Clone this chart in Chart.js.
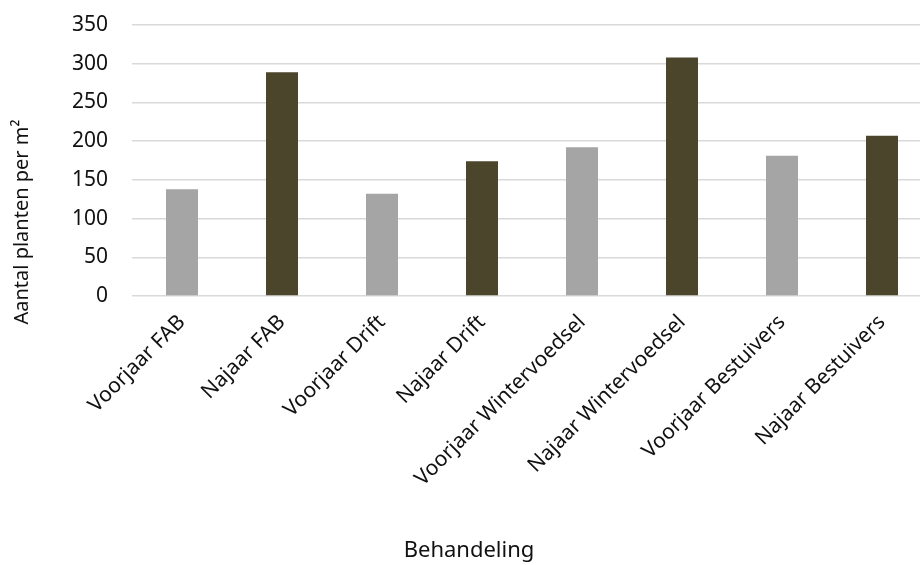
<!DOCTYPE html>
<html>
<head>
<meta charset="utf-8">
<script src="https://cdn.jsdelivr.net/npm/chart.js@4"></script>
<style>
  html, body { margin: 0; padding: 0; background: #fff; overflow: hidden; }
  #wrap { width: 920px; height: 565px; overflow: hidden; }
</style>
</head>
<body>
<div id="wrap"><canvas id="chart" width="932" height="565"></canvas></div>
<script>
const categories = [
    'Voorjaar FAB', 'Najaar FAB', 'Voorjaar Drift', 'Najaar Drift',
    'Voorjaar Wintervoedsel', 'Najaar Wintervoedsel', 'Voorjaar Bestuivers', 'Najaar Bestuivers'
];
const plantsPerM2 = [138, 289, 132, 174, 192, 308, 181, 207];
const seasonColors = ['#a5a5a5', '#4a452b', '#a5a5a5', '#4a452b', '#a5a5a5', '#4a452b', '#a5a5a5', '#4a452b'];
const yTicks = { min: 0, max: 350, step: 50 };
const yTitle = 'Aantal planten per m²';
const xTitle = 'Behandeling';

const FONT = '"Noto Sans"';
const TEXT = '#111111';

// y title sits a bit lower than the plot middle in the original, so draw it by hand
const yTitlePlugin = {
    id: 'yTitle',
    afterDraw(chart) {
        const ctx = chart.ctx;
        ctx.save();
        ctx.translate(22, 222);
        ctx.rotate(-Math.PI / 2);
        ctx.font = `20px ${FONT}`;
        ctx.fillStyle = TEXT;
        ctx.textAlign = 'center';
        ctx.textBaseline = 'middle';
        ctx.fillText(yTitle, 0, 0);
        ctx.restore();
    }
};

new Chart(document.getElementById('chart'), {
    type: 'bar',
    data: {
        labels: categories,
        datasets: [{
            data: plantsPerM2,
            backgroundColor: seasonColors,
            categoryPercentage: 1,
            barPercentage: 0.32
        }]
    },
    options: {
        responsive: false,
        animation: false,
        layout: { padding: { top: 25, left: 6, right: 0, bottom: 0 } },
        plugins: {
            legend: { display: false },
            tooltip: { enabled: false },
            title: {
                display: true,
                text: xTitle,
                position: 'bottom',
                color: TEXT,
                font: { family: FONT, size: 22, weight: 'normal' },
                padding: { top: 0, bottom: 1 }
            }
        },
        scales: {
            x: {
                grid: { display: false },
                border: { display: false },
                ticks: {
                    color: TEXT,
                    font: { family: FONT, size: 21 },
                    minRotation: 45,
                    maxRotation: 45,
                    padding: 6
                },
                afterFit: scale => { scale.height = 241.6; }
            },
            y: {
                min: yTicks.min,
                max: yTicks.max,
                border: { display: false },
                // invisible tick marks give the gap between labels and plot
                grid: { color: '#d9d9d9', lineWidth: 1.4, tickColor: 'rgba(0,0,0,0)', tickLength: 24 },
                ticks: {
                    stepSize: yTicks.step,
                    color: TEXT,
                    font: { family: FONT, size: 21 },
                    padding: 0
                },
                afterFit: scale => { scale.width = 126; }
            }
        }
    },
    plugins: [yTitlePlugin]
});
</script>
</body>
</html>
